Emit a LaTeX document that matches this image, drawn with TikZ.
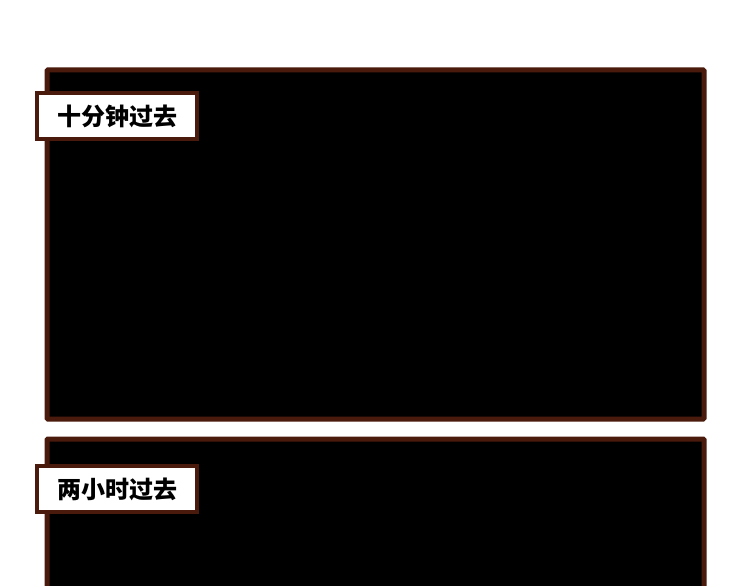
\documentclass[tikz,border=0pt]{standalone}
\usepackage{fontspec}
\newfontfamily\cjk{Noto Sans CJK SC}
\definecolor{framebrown}{HTML}{4A1A0C}
\begin{document}
\begin{tikzpicture}[x=1pt,y=-1pt,
  panel/.style={fill=black,draw=framebrown,line width=5pt,rounded corners=1pt},
  caption/.style={fill=white,draw=framebrown,line width=4pt,anchor=north west,
    minimum width=160pt,minimum height=46pt,inner sep=0pt,font=\cjk\bfseries\fontsize{24}{24}\selectfont}]
  \useasboundingbox (0,0) rectangle (750,586);
  %panels
  \draw[panel] (47,70) rectangle (704,419);
  \begin{scope}
    \clip (0,0) rectangle (750,586);
    \draw[panel] (47,439) rectangle (704,620);
  \end{scope}

  %captions
  \node[caption] (ten) at (35,91) {十分钟过去};
  \node[caption] (two) at (35,464) {两小时过去};
\end{tikzpicture}
\end{document}
